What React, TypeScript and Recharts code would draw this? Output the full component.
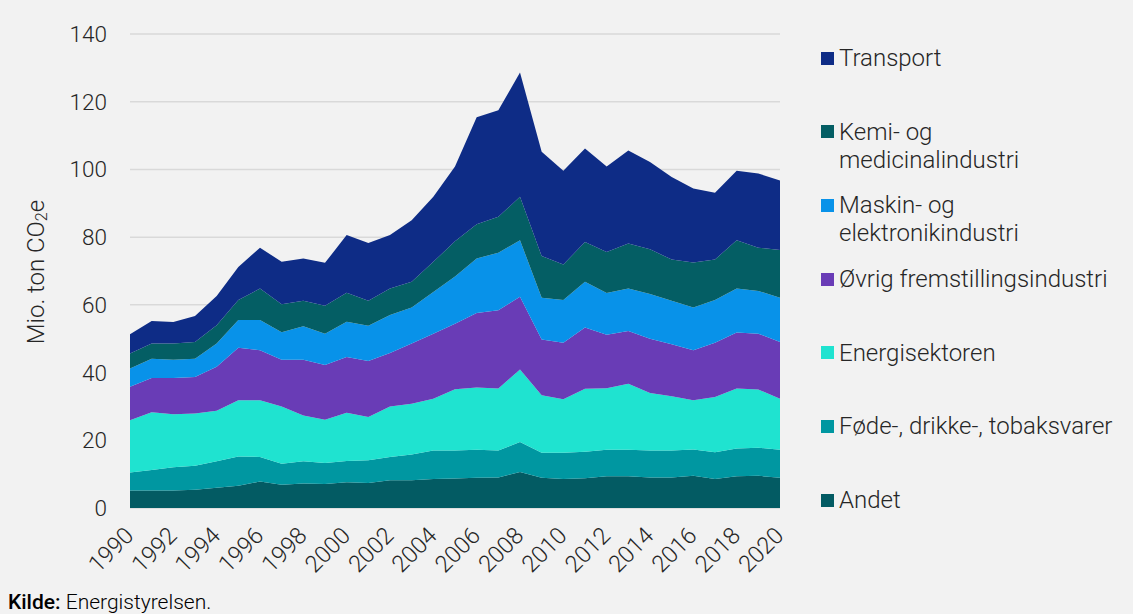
import React from "react";
import { Area, AreaChart, CartesianGrid, XAxis, YAxis } from "recharts";

const years = [
  1990, 1991, 1992, 1993, 1994, 1995, 1996, 1997, 1998, 1999, 2000, 2001, 2002, 2003, 2004, 2005,
  2006, 2007, 2008, 2009, 2010, 2011, 2012, 2013, 2014, 2015, 2016, 2017, 2018, 2019, 2020,
];
const tickYears = years.filter((y) => y % 2 === 0).map(String);
const yTicks = [0, 20, 40, 60, 80, 100, 120, 140];

// bottom to top of the stack
const andet = [
  5.2, 5.2, 5.2, 5.4, 6.0, 6.6, 7.8, 6.9, 7.2, 7.1, 7.6, 7.4, 8.2, 8.2, 8.6, 8.7,
  8.9, 9.0, 10.6, 8.9, 8.6, 8.8, 9.4, 9.4, 9.0, 9.0, 9.5, 8.6, 9.4, 9.5, 8.9,
];
const fode = [
  5.3, 6.0, 6.8, 7.1, 7.8, 8.6, 7.3, 6.2, 6.6, 6.2, 6.3, 6.7, 6.9, 7.6, 8.4, 8.3,
  8.3, 8.0, 8.9, 7.4, 7.7, 7.8, 7.8, 7.8, 8.0, 8.0, 7.8, 7.9, 8.2, 8.3, 8.3,
];
const energi = [
  15.4, 17.1, 15.7, 15.4, 14.9, 16.6, 16.7, 16.9, 13.5, 12.8, 14.2, 12.8, 14.9, 15.0, 15.3, 18.1,
  18.4, 18.3, 21.4, 17.0, 15.8, 18.6, 18.2, 19.5, 17.0, 16.0, 14.5, 16.3, 17.7, 17.2, 15.1,
];
const ovrig = [
  9.9, 10.1, 10.7, 10.8, 13.0, 15.5, 14.8, 13.8, 16.5, 16.1, 16.5, 16.5, 15.8, 17.8, 19.2, 19.3,
  22.0, 23.1, 21.5, 16.5, 16.7, 18.1, 15.8, 15.6, 16.0, 15.4, 14.8, 16.0, 16.5, 16.5, 16.7,
];
const maskin = [
  5.4, 5.7, 5.4, 5.4, 6.9, 8.2, 8.9, 8.1, 9.9, 9.3, 10.4, 10.4, 11.2, 10.6, 12.3, 14.0,
  16.1, 17.0, 16.7, 12.3, 12.6, 13.5, 12.3, 12.5, 13.2, 12.8, 12.6, 12.6, 13.0, 12.6, 13.1,
];
const kemi = [
  4.4, 4.5, 4.8, 4.9, 5.4, 5.9, 9.3, 8.3, 7.5, 8.2, 8.6, 7.4, 7.8, 7.6, 8.9, 10.4,
  10.1, 10.6, 12.8, 12.3, 10.5, 11.8, 12.1, 13.3, 13.2, 12.2, 13.3, 12.0, 14.3, 12.8, 14.1,
];
const transport = [
  5.7, 6.6, 6.3, 7.7, 8.6, 9.8, 12.1, 12.5, 12.5, 12.7, 17.0, 17.1, 15.8, 18.2, 19.2, 22.1,
  31.6, 31.5, 36.7, 30.8, 27.7, 27.6, 25.3, 27.5, 25.8, 24.4, 21.9, 19.7, 20.5, 21.9, 20.5,
];

const seriesKeys = ["andet", "fode", "energi", "ovrig", "maskin", "kemi", "transport"];
const seriesNames = [
  "Andet",
  "Føde-, drikke-, tobaksvarer",
  "Energisektoren",
  "Øvrig fremstillingsindustri",
  "Maskin- og\nelektronikindustri",
  "Kemi- og\nmedicinalindustri",
  "Transport",
];
const seriesColors = ["#035b63", "#0097a1", "#1fe3d0", "#693cb6", "#0892e9", "#045e64", "#0e2c86"];
const seriesValues = [andet, fode, energi, ovrig, maskin, kemi, transport];

const data = years.map((year, i) => {
  const row: Record<string, number | string> = { year: String(year) };
  seriesKeys.forEach((k, s) => {
    row[k] = seriesValues[s][i];
  });
  return row;
});

const font = "Roboto, 'Noto Sans', sans-serif";
const textColor = "#262626";

function XTick({ x, y, payload }: any) {
  const ax = x + 5;
  const ay = y + 29;
  return (
    <text
      x={ax}
      y={ay}
      transform={`rotate(-45, ${ax}, ${ay})`}
      textAnchor="end"
      fontFamily={font}
      fontWeight={300}
      fontSize={23.5}
      fill={textColor}
    >
      {payload.value}
    </text>
  );
}

function YLabel() {
  return (
    <text
      x={36}
      y={272}
      transform="rotate(-90, 36, 272)"
      textAnchor="middle"
      dominantBaseline="central"
      fontFamily={font}
      fontWeight={300}
      fontSize={24}
      fill={textColor}
    >
      Mio. ton CO
      <tspan fontSize={16} dy={5}>
        2
      </tspan>
      <tspan dy={-5}>e</tspan>
    </text>
  );
}

export default function App() {
  const legendOrder = seriesKeys.map((_, i) => i).reverse();
  return (
    <div
      style={{
        position: "absolute",
        left: 0,
        top: 0,
        width: 1133,
        height: 614,
        background: "#f2f2f2",
        overflow: "hidden",
        fontFamily: font,
      }}
    >
      <AreaChart
        width={1133}
        height={614}
        data={data}
        margin={{ top: 34, right: 353, left: 0, bottom: 46 }}
      >
        <CartesianGrid vertical={false} stroke="#d9d9d9" strokeWidth={1.5} />
        <XAxis
          dataKey="year"
          ticks={tickYears}
          interval={0}
          height={60}
          tickLine={false}
          axisLine={false}
          tickSize={0}
          tickMargin={0}
          tick={<XTick />}
        />
        <YAxis
          width={130}
          domain={[0, 140]}
          ticks={yTicks}
          interval={0}
          tickLine={false}
          axisLine={false}
          tickSize={0}
          tickMargin={23}
          tick={{ fontFamily: font, fontWeight: 300, fontSize: 22.5, fill: textColor }}
          label={<YLabel />}
        />
        {seriesKeys.map((k, i) => (
          <Area
            key={k}
            type="linear"
            dataKey={k}
            name={seriesNames[i]}
            stackId="1"
            stroke="none"
            fill={seriesColors[i]}
            fillOpacity={1}
            isAnimationActive={false}
          />
        ))}
      </AreaChart>

      <div style={{ position: "absolute", left: 821, top: 44 }}>
        {legendOrder.map((i) => (
          <div key={seriesKeys[i]} style={{ position: "relative", height: 73.7 }}>
            <div
              style={{
                position: "absolute",
                left: 0,
                top: 7.5,
                width: 13,
                height: 13,
                background: seriesColors[i],
              }}
            />
            <div
              style={{
                position: "absolute",
                left: 18,
                top: 0,
                fontSize: 24,
                fontWeight: 300,
                lineHeight: "28px",
                color: textColor,
                whiteSpace: "pre",
              }}
            >
              {seriesNames[i]}
            </div>
          </div>
        ))}
      </div>

      <div
        style={{
          position: "absolute",
          left: 8,
          top: 591,
          fontSize: 21,
          lineHeight: "22px",
          color: "#000",
          whiteSpace: "nowrap",
        }}
      >
        <span style={{ fontWeight: 500 }}>Kilde:</span>
        <span style={{ fontWeight: 300 }}> Energistyrelsen.</span>
      </div>
    </div>
  );
}
